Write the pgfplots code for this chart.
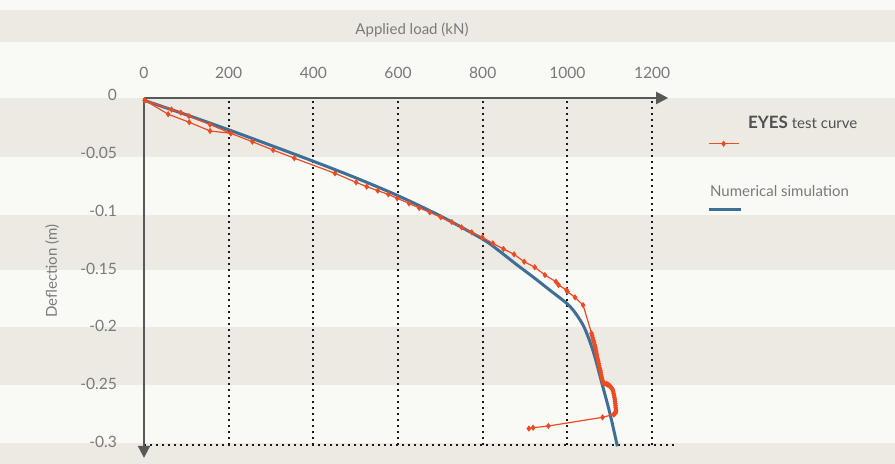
\documentclass[border=0pt]{standalone}
\usepackage{fontspec}
\setmainfont{Lato}
\usepackage{pgfplots}
\pgfplotsset{compat=1.18}
\usetikzlibrary{arrows.meta}
\definecolor{bandA}{RGB}{236,234,226}
\definecolor{bandB}{RGB}{249,249,246}
\definecolor{testred}{RGB}{236,76,36}
\definecolor{simblue}{RGB}{62,111,150}
\definecolor{axgray}{RGB}{88,88,88}
\definecolor{txtgray}{RGB}{122,122,122}
\definecolor{legdark}{RGB}{80,80,80}
\pgfplotsset{
  blueleg/.style={legend image code/.code={\path (0pt,0pt); \draw[overlay,##1] (0pt,-8.5pt) -- (16pt,-8.5pt);}},
  redleg/.style={legend image code/.code={\path (0pt,0pt); \draw[overlay,mark repeat=2,mark phase=2,##1] plot coordinates {(0pt,-10pt) (7.5pt,-10pt) (15pt,-10pt)};}},
}

\begin{document}
\begin{tikzpicture}
\begin{axis}[
  set layers,
  x=0.2117pt, y=578.5pt,
  xmin=0, xmax=1238, ymin=-0.3, ymax=0,
  clip=false,
  axis line style={draw=none},
  xtick={0,200,...,1200},
  ytick={0,-0.05,-0.1,-0.15,-0.2,-0.25,-0.3},
  xticklabel pos=upper,
  tick style={draw=none},
  major tick length=0pt,
  xmajorgrids,
  grid style={black!90, line width=1pt, dash pattern=on 1pt off 2pt},
  ticklabel style={font=\fontsize{7.8}{9}\selectfont, text=txtgray},
  /pgf/number format/assume math mode=true,
  /pgf/number format/1000 sep={},
  yticklabel style={/pgf/number format/fixed, /pgf/number format/precision=2, xshift=-10pt, yshift=1.5pt},
  xticklabel style={yshift=6pt},
  unbounded coords=jump,
  reverse legend,
  legend cell align=left,
  legend style={at={(axis cs:1330,-0.0156)}, anchor=north west, draw=none, fill=none,
    inner sep=0pt, outer sep=0pt, row sep=27pt, column sep=0pt,
    font=\fontsize{7.5}{9}\selectfont,
    nodes={inner sep=0pt, outer sep=0pt}},
]
\begin{pgfonlayer}{axis background}
  \fill[bandB] (axis cs:-340.1,0.0847) rectangle (axis cs:1773.7,-0.3163);
  \fill[bandA] (axis cs:-340.1,0.0761) rectangle (axis cs:1773.7,0.0484);
  \fill[bandA] (axis cs:-340.1,0) rectangle (axis cs:1773.7,-0.0510);
  \fill[bandA] (axis cs:-340.1,-0.1011) rectangle (axis cs:1773.7,-0.1487);
  \fill[bandA] (axis cs:-340.1,-0.1979) rectangle (axis cs:1773.7,-0.2481);
  \fill[bandA] (axis cs:-340.1,-0.2982) rectangle (axis cs:1773.7,-0.3163);
\end{pgfonlayer}
\coordinate (bbll) at (axis cs:-340.1,-0.3163);
\coordinate (bbur) at (axis cs:1773.7,0.0847);

\draw[black!90, line width=1pt, dash pattern=on 1pt off 2pt] (axis cs:0,-0.3) -- (axis cs:1254,-0.3);
\draw[axgray, line width=1pt, -{Triangle[length=6pt,width=6pt]}] (axis cs:0,0) -- (axis cs:1238,0);
\draw[axgray, line width=1pt, -{Triangle[length=6pt,width=6pt]}] (axis cs:0,0) -- (axis cs:0,-0.311);

\node[font=\fontsize{7.5}{9}\selectfont, text=txtgray] at (axis cs:633,0.059) {Applied load (kN)};
\node[font=\fontsize{7.5}{9}\selectfont, text=txtgray, rotate=90] at (axis cs:-217,-0.1495) {Deflection (m)};

\addplot[simblue, line width=1.5pt, smooth, blueleg]
  coordinates {
  (0,-0.002) (100,-0.0145) (200,-0.0275) (300,-0.0410) (400,-0.0547) (500,-0.0690)
  (600,-0.0845) (700,-0.1020) (800,-0.1220) (840,-0.1325) (880,-0.1440) (920,-0.1550)
  (960,-0.1665) (1000,-0.1780) (1020,-0.1865) (1040,-0.1985) (1061,-0.2190)
  (1081,-0.2460) (1100,-0.2720) (1118,-0.3010)
  };
\addlegendentry{\textcolor{txtgray}{Numerical simulation}}

\addplot[testred, line width=0.6pt, mark=diamond*, mark size=1.1pt, redleg]
  coordinates {
  (2,-0.002) (65,-0.010) (87,-0.0127) (106,-0.0156) (156,-0.023) (205,-0.0305)
  (256,-0.0378) (305,-0.045) (355,-0.052) (451,-0.0651) (501,-0.0729) (526,-0.0766)
  (552,-0.0801) (577,-0.0833) (598,-0.0867) (626,-0.0911) (650,-0.0951) (675,-0.0988)
  (701,-0.1031) (727,-0.1072) (750,-0.1118) (774,-0.1161) (799,-0.1204) (824,-0.1256)
  (849,-0.1305) (874,-0.1351) (898,-0.1415) (923,-0.1463) (947,-0.153) (973,-0.1588)
  (979,-0.1616) (998,-0.166) (1000,-0.1674) (1018,-0.1723) (1037,-0.179)
  (1057,-0.2034) (1058.5,-0.2055) (1060,-0.2075) (1061.5,-0.2095) (1063,-0.2115)
  (1064.5,-0.2135) (1066,-0.2155) (1067,-0.2175) (1068,-0.2195) (1069,-0.2215)
  (1070,-0.2235) (1071.5,-0.2255) (1073,-0.2275) (1074,-0.2295) (1075,-0.2315)
  (1076.5,-0.2335) (1078,-0.2355) (1079,-0.2375) (1080,-0.2395) (1081,-0.2413)
  (1082,-0.2430) (1083.5,-0.2448) (1085,-0.2466) (1088,-0.2468) (1092,-0.2472)
  (1095,-0.2476) (1097,-0.248) (1099,-0.2486) (1101,-0.2493) (1103,-0.2501)
  (1105,-0.251) (1107,-0.2522) (1108,-0.2535) (1109,-0.2552) (1110,-0.257)
  (1111,-0.2588) (1112,-0.2605) (1112.5,-0.2622) (1113,-0.264) (1113.5,-0.2657)
  (1114,-0.2675) (1114.5,-0.269) (1115,-0.2705) (1114,-0.2715) (1113,-0.2725)
  (1111,-0.2730) (1109,-0.2735)
  (1083,-0.276) (955,-0.2835) (919,-0.285) (909,-0.2857)
  (0,nan)
  (2,-0.002) (57,-0.014) (107,-0.021) (156,-0.0285) (205,-0.0305)
  };
\addlegendentry{\hspace{19pt}\textcolor{legdark}{\fontsize{8.5}{10}\selectfont\bfseries EYES} \textcolor{legdark}{test curve}}
\end{axis}
\pgfresetboundingbox
\path[use as bounding box] (bbll) rectangle (bbur);
\end{tikzpicture}
\end{document}
